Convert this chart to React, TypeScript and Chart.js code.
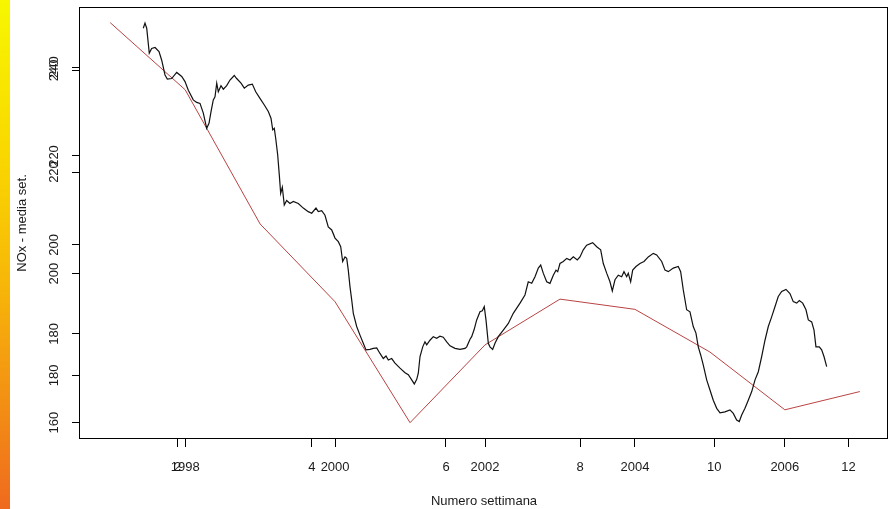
import React, { useEffect, useRef } from 'react';
import { Chart, registerables } from 'chart.js';

Chart.register(...registerables);

// Annual mean (red line), left axis set A
const redYears = [1997, 1998, 1999, 2000, 2001, 2002, 2003, 2004, 2005, 2006, 2007];
const redValues = [250.0, 234.9, 204.7, 187.2, 160.0, 177.5, 187.8, 185.5, 175.9, 162.9, 167.0];

// Weekly moving average (black line), left axis set B
const blackYears = [
  1997.441, 1997.464, 1997.487, 1997.521, 1997.553, 1997.598, 1997.651, 1997.687, 1997.731, 1997.762,
  1997.820, 1997.887, 1997.954, 1997.998, 1998.042, 1998.108, 1998.154, 1998.198, 1998.242, 1998.287,
  1998.318, 1998.345, 1998.375, 1998.398, 1998.421, 1998.442, 1998.478, 1998.509, 1998.554, 1998.598,
  1998.655, 1998.687, 1998.745, 1998.789, 1998.842, 1998.896, 1998.941, 1998.998, 1999.056, 1999.109,
  1999.145, 1999.168, 1999.189, 1999.208, 1999.234, 1999.256, 1999.274, 1999.296, 1999.322, 1999.354,
  1999.398, 1999.442, 1999.509, 1999.576, 1999.642, 1999.688, 1999.745, 1999.776, 1999.821, 1999.865,
  1999.909, 1999.955, 1999.999, 2000.043, 2000.075, 2000.101, 2000.132, 2000.155, 2000.176, 2000.199,
  2000.222, 2000.243, 2000.288, 2000.332, 2000.376, 2000.412, 2000.466, 2000.510, 2000.555, 2000.599,
  2000.643, 2000.679, 2000.710, 2000.755, 2000.799, 2000.866, 2000.933, 2000.977, 2001.022, 2001.057,
  2001.089, 2001.110, 2001.133, 2001.169, 2001.199, 2001.222, 2001.266, 2001.310, 2001.355, 2001.399,
  2001.443, 2001.489, 2001.533, 2001.600, 2001.666, 2001.733, 2001.756, 2001.800, 2001.822, 2001.853,
  2001.889, 2001.933, 2001.964, 2001.990, 2002.013, 2002.044, 2002.066, 2002.102, 2002.133, 2002.177,
  2002.244, 2002.311, 2002.377, 2002.467, 2002.533, 2002.577, 2002.623, 2002.667, 2002.711, 2002.743,
  2002.777, 2002.823, 2002.867, 2002.911, 2002.947, 2002.970, 2003.000, 2003.044, 2003.090, 2003.134,
  2003.178, 2003.231, 2003.267, 2003.311, 2003.356, 2003.436, 2003.490, 2003.543, 2003.578, 2003.623,
  2003.667, 2003.698, 2003.734, 2003.778, 2003.823, 2003.854, 2003.890, 2003.911, 2003.943, 2003.970,
  2004.014, 2004.067, 2004.121, 2004.178, 2004.245, 2004.290, 2004.357, 2004.401, 2004.445, 2004.512,
  2004.578, 2004.610, 2004.645, 2004.690, 2004.734, 2004.778, 2004.814, 2004.845, 2004.877, 2004.912,
  2004.957, 2005.001, 2005.045, 2005.091, 2005.135, 2005.201, 2005.268, 2005.312, 2005.357, 2005.392,
  2005.424, 2005.468, 2005.512, 2005.558, 2005.602, 2005.646, 2005.691, 2005.735, 2005.779, 2005.824,
  2005.868, 2005.912, 2005.958, 2006.015, 2006.068, 2006.112, 2006.158, 2006.193, 2006.238, 2006.282,
  2006.313, 2006.358, 2006.389, 2006.415, 2006.459, 2006.491, 2006.522, 2006.558,
];
const blackValues = [
  248.3, 249.3, 248.3, 243.4, 244.3, 244.5, 243.7, 242.0, 239.1, 238.3,
  238.4, 239.6, 238.8, 237.8, 236.1, 234.2, 233.7, 233.5, 231.6, 228.6,
  229.6, 231.9, 234.2, 234.8, 237.5, 235.8, 237.0, 236.3, 237.0, 238.1,
  239.0, 238.4, 237.5, 236.5, 237.1, 237.3, 235.8, 234.5, 233.2, 231.9,
  230.6, 228.3, 228.6, 226.6, 223.4, 219.4, 215.8, 217.0, 213.5, 214.4,
  213.8, 214.2, 213.8, 212.9, 212.2, 211.9, 212.9, 212.2, 212.4, 211.5,
  209.2, 208.6, 207.0, 206.3, 205.3, 202.4, 203.3, 203.0, 200.7, 197.4,
  194.8, 192.2, 189.6, 187.9, 186.3, 185.0, 185.1, 185.3, 185.4, 184.3,
  183.3, 183.8, 183.0, 183.3, 182.4, 181.4, 180.5, 180.1, 179.1, 178.3,
  179.2, 180.4, 183.7, 185.6, 186.6, 186.0, 186.9, 187.6, 187.3, 187.7,
  187.5, 186.6, 185.8, 185.3, 185.1, 185.3, 185.6, 187.1, 187.6, 188.9,
  190.9, 192.5, 192.7, 193.5, 190.9, 186.3, 185.6, 185.1, 186.3, 187.6,
  188.9, 190.2, 192.2, 194.2, 195.8, 198.4, 198.1, 199.4, 201.1, 201.7,
  200.1, 198.4, 198.1, 199.7, 200.7, 200.4, 202.0, 202.4, 203.0, 202.7,
  203.3, 202.7, 203.3, 204.7, 205.6, 206.1, 205.3, 204.7, 202.0, 200.1,
  198.4, 196.6, 198.8, 199.7, 199.4, 200.4, 199.4, 200.1, 198.4, 200.7,
  201.4, 202.0, 202.4, 203.3, 204.0, 203.7, 202.4, 200.7, 200.4, 201.1,
  201.4, 200.4, 196.8, 192.9, 192.5, 189.6, 188.3, 185.6, 184.0, 182.0,
  179.1, 177.1, 175.1, 173.5, 172.6, 172.8, 173.2, 172.5, 171.2, 170.9,
  172.2, 173.5, 175.1, 176.8, 179.1, 180.7, 183.7, 186.9, 189.6, 191.5,
  193.5, 195.5, 196.5, 196.9, 196.1, 194.5, 194.2, 194.7, 194.2, 192.9,
  190.9, 190.5, 188.9, 185.6, 185.6, 185.0, 183.7, 181.7,
];

// Tick labels of the two overlaid x axes
const yearTicks = [1998, 2000, 2002, 2004, 2006];
const indexTicks = [2, 4, 6, 8, 10, 12];
// Tick labels of the two overlaid y axes
const leftTicksA = [160, 180, 200, 220, 240];
const leftTicksB = [180, 200, 220, 240];

// Axis ranges (user coordinates of each overlaid plot)
const X_RANGE = [1996.597, 2007.376];
const IDX_RANGE = [0.5433, 12.59];
const YA_RANGE = [156.33, 253.52];
const YB_RANGE = [167.465, 252.475];

const mapRange = (v: number, from: number[], to: number[]) =>
  to[0] + ((v - from[0]) / (from[1] - from[0])) * (to[1] - to[0]);

const FONT = '"Liberation Sans", Arial, sans-serif';
const TXT = '#1a1a1a';

export default function App() {
  const ref = useRef<HTMLCanvasElement | null>(null);

  useEffect(() => {
    if (!ref.current) return;
    const boxPlugin = {
      id: 'rbox',
      afterDatasetsDraw(chart: any) {
        const { ctx, chartArea } = chart;
        ctx.save();
        ctx.strokeStyle = '#000';
        ctx.lineWidth = 1;
        ctx.strokeRect(
          Math.round(chartArea.left) - 0.5,
          Math.round(chartArea.top) + 0.5,
          Math.round(chartArea.right - chartArea.left),
          Math.round(chartArea.bottom - chartArea.top) - 1
        );
        ctx.restore();
      },
    };

    const chart = new Chart(ref.current, {
      type: 'line',
      data: {
        datasets: [
          {
            label: 'media settimanale',
            data: blackYears.map((x, i) => ({ x, y: blackValues[i] })),
            borderColor: '#111',
            borderWidth: 1.2,
            pointRadius: 0,
            tension: 0,
            yAxisID: 'yB',
            xAxisID: 'x',
          },
          {
            label: 'media annua',
            data: redYears.map((x, i) => ({ x, y: redValues[i] })),
            borderColor: '#b94343',
            borderWidth: 1,
            pointRadius: 0,
            tension: 0,
            yAxisID: 'y',
            xAxisID: 'x',
          },
        ],
      },
      options: {
        responsive: false,
        animation: false,
        devicePixelRatio: 1,
        layout: { padding: { top: 7, right: 7, left: 0, bottom: 0 } },
        plugins: { legend: { display: false }, tooltip: { enabled: false } },
        scales: {
          x: {
            type: 'linear',
            position: 'bottom',
            min: X_RANGE[0],
            max: X_RANGE[1],
            bounds: 'data',
            afterBuildTicks: (s: any) => {
              const t = [
                ...yearTicks.map((v) => ({ value: v, txt: String(v) })),
                ...indexTicks.map((v) => ({ value: mapRange(v, IDX_RANGE, X_RANGE), txt: String(v) })),
              ];
              t.sort((a, b) => a.value - b.value);
              s.ticks = t;
            },
            afterFit: (s: any) => {
              s.height = 70;
              s.paddingLeft = 0;
              s.paddingRight = 0;
            },
            ticks: {
              autoSkip: false,
              minRotation: 0,
              maxRotation: 0,
              padding: 13,
              color: TXT,
              font: { family: FONT, size: 13 },
              callback: (_v: any, i: number, ticks: any[]) => ticks[i].txt,
            },
            grid: { drawOnChartArea: false, drawTicks: true, tickLength: 8, color: '#000' },
            border: { display: false },
            title: {
              display: true,
              text: 'Numero settimana',
              color: TXT,
              font: { family: FONT, size: 13 },
              padding: { top: 0, bottom: 0 },
            },
          },
          y: {
            type: 'linear',
            position: 'left',
            min: YA_RANGE[0],
            max: YA_RANGE[1],
            bounds: 'data',
            afterBuildTicks: (s: any) => {
              const t = [
                ...leftTicksA.map((v) => ({ value: v, txt: String(v) })),
                ...leftTicksB.map((v) => ({ value: mapRange(v, YB_RANGE, YA_RANGE), txt: String(v) })),
              ];
              t.sort((a, b) => a.value - b.value);
              s.ticks = t;
            },
            afterFit: (s: any) => {
              s.width = 80;
              s.paddingTop = 0;
              s.paddingBottom = 0;
            },
            ticks: {
              autoSkip: false,
              minRotation: 90,
              maxRotation: 90,
              crossAlign: 'center',
              padding: 7,
              color: TXT,
              font: { family: FONT, size: 13 },
              callback: (_v: any, i: number, ticks: any[]) => ticks[i].txt,
            },
            grid: { drawOnChartArea: false, drawTicks: true, tickLength: 8, color: '#000' },
            border: { display: false },
            title: {
              display: true,
              text: 'NOx - media set.',
              color: TXT,
              font: { family: FONT, size: 13 },
              padding: { top: 15, bottom: 0 },
            },
          },
          yB: {
            type: 'linear',
            position: 'left',
            display: false,
            min: YB_RANGE[0],
            max: YB_RANGE[1],
          },
        },
      } as any,
      plugins: [boxPlugin],
    });
    return () => chart.destroy();
  }, []);

  return (
    <div style={{ position: 'absolute', left: 0, top: 0, width: 895, height: 509, background: '#fff', overflow: 'hidden' }}>
      <canvas ref={ref} width={895} height={509} style={{ display: 'block' }} />
      <div
        style={{
          position: 'absolute',
          left: 0,
          top: 0,
          width: 10,
          height: 509,
          background: 'linear-gradient(to bottom, #f7f700 0%, #f9d800 30%, #f7b808 55%, #f38e14 80%, #ef6a1e 100%)',
        }}
      />
    </div>
  );
}
